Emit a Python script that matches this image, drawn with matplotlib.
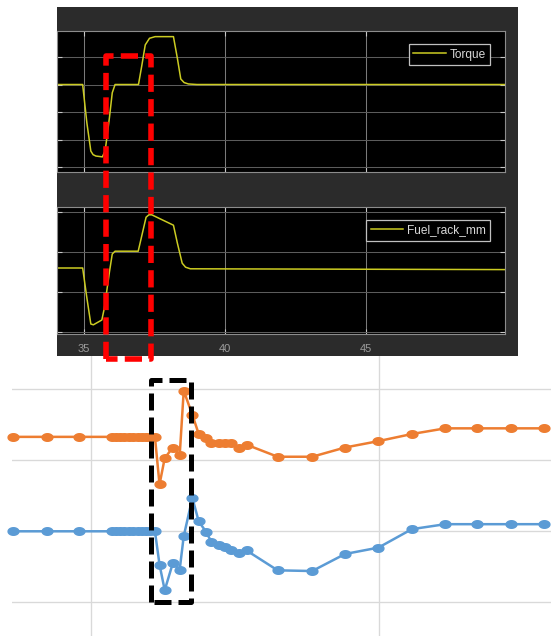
import numpy as np
import matplotlib
matplotlib.use("Agg")
import matplotlib.pyplot as plt
from matplotlib.patches import Rectangle
from matplotlib.lines import Line2D
from matplotlib.path import Path
from matplotlib.ticker import MultipleLocator

W, H = 551, 636

# ---------------- scope traces (simulation time, s) ----------------
torque_t = [34.0, 34.95, 35.10, 35.24, 35.32, 35.42, 35.65, 35.75, 35.90, 36.00,
            36.10, 36.93, 37.05, 37.17, 37.32, 37.52, 38.17, 38.31, 38.43, 38.55,
            38.70, 39.00, 50.0]
torque_v = [3.0, 3.0, 1.6, 0.58, 0.45, 0.40, 0.37, 0.6, 1.8, 2.7,
            3.0, 3.0, 3.7, 4.44, 4.68, 4.74, 4.74, 3.95, 3.2, 3.07,
            3.02, 3.0, 3.0]

fuel_t = [34.0, 34.95, 35.10, 35.24, 35.33, 35.63, 35.72, 35.90, 36.00, 36.10,
          36.92, 37.20, 37.30, 37.40, 38.17, 38.31, 38.48, 38.60, 38.77, 50.0]
fuel_v = [1.6, 1.6, 0.85, 0.2, 0.18, 0.3, 0.6, 1.5, 1.95, 2.02,
          2.02, 2.87, 2.93, 2.93, 2.67, 2.22, 1.72, 1.62, 1.58, 1.56]

scope_ticks = [35, 40, 45]

# ---------------- sampled measurement series ----------------
sample_t = [33.65, 34.23, 34.79,
            35.36, 35.43, 35.51, 35.58, 35.66, 35.73, 35.81, 35.88, 35.96, 36.03, 36.11,
            36.19, 36.28, 36.42, 36.54, 36.61, 36.76, 36.87, 37.00, 37.09, 37.22,
            37.33, 37.43, 37.57, 37.70, 38.24, 38.84, 39.41, 39.99, 40.57, 41.15,
            41.71, 42.30, 42.87]
series_orange = [2.33, 2.33, 2.33,
                 2.33, 2.33, 2.33, 2.33, 2.33, 2.33, 2.33, 2.33, 2.33, 2.33, 2.33,
                 1.66, 2.03, 2.18, 2.07, 2.98, 2.64, 2.37, 2.31, 2.25, 2.24,
                 2.24, 2.24, 2.17, 2.22, 2.05, 2.05, 2.18, 2.27, 2.37, 2.45,
                 2.45, 2.45, 2.45]
series_blue = [1.0, 1.0, 1.0,
               1.0, 1.0, 1.0, 1.0, 1.0, 1.0, 1.0, 1.0, 1.0, 1.0, 1.0,
               0.53, 0.17, 0.55, 0.46, 0.93, 1.47, 1.14, 0.99, 0.85, 0.81,
               0.78, 0.74, 0.69, 0.73, 0.45, 0.44, 0.68, 0.77, 1.03, 1.10,
               1.10, 1.10, 1.10]

# highlighted windows
red_window = (35.77, 37.37)
black_window = (36.04, 36.73)

TRACE = "#cccc22"
ORANGE = "#ED7D31"
BLUE = "#5B9BD5"


def frac(l, t, r, b):
    return [l / W, 1 - b / H, (r - l) / W, (b - t) / H]


fig = plt.figure(figsize=(W / 100, H / 100), dpi=100)
fig.patch.set_facecolor("white")

# ---------------- lower chart ----------------
ax3 = fig.add_axes(frac(12.3, 356, 551, 636))
ax3.set_zorder(0)
ax3.set_xlim(33.634, 42.986)
ax3.set_ylim(-0.475, 3.469)
ax3.xaxis.set_major_locator(MultipleLocator(5))
ax3.yaxis.set_major_locator(MultipleLocator(1))
ax3.grid(True, color="#d9d9d9", lw=0.95)
ax3.set_axisbelow(True)
for s in ax3.spines.values():
    s.set_visible(False)
ax3.tick_params(length=0, labelleft=False, labelbottom=False)

th = np.linspace(0, 2 * np.pi, 41)
ellipse = Path(np.column_stack([np.cos(th), 0.7 * np.sin(th)]), closed=True)

for vals, col in ((series_orange, ORANGE), (series_blue, BLUE)):
    ax3.plot(sample_t, vals, color=col, lw=1.8, marker=ellipse, ms=7.8,
             mec=col, mfc=col, clip_on=False, zorder=3)

bx0, bx1 = black_window
ax3.plot([bx0, bx0, bx1, bx1, bx0], [0.0, 3.13, 3.13, 0.0, 0.0], color="black",
         lw=3.6, ls=(0, (3.4, 1.4)), zorder=6, clip_on=False)

# ---------------- scope panel ----------------
fig.add_artist(Rectangle((57 / W, 1 - 356 / H), (518 - 57) / W, (356 - 7) / H,
                         transform=fig.transFigure, facecolor="#2b2b2b",
                         edgecolor="none", zorder=1))


def scope_axes(rect, ylim, ymax_tick):
    ax = fig.add_axes(frac(*rect))
    ax.set_zorder(2)
    ax.set_facecolor("black")
    ax.set_xlim(34.04, 49.93)
    ax.set_ylim(*ylim)
    ax.set_xticks(scope_ticks)
    ax.set_yticks(range(0, ymax_tick + 1))
    ax.xaxis.grid(True, color="#7a7a7a", lw=0.75)
    ax.yaxis.grid(True, color="#5c5c5c", lw=0.75)
    ax.set_axisbelow(True)
    for s in ax.spines.values():
        s.set_color("#8c8c8c")
        s.set_linewidth(0.8)
    ax.tick_params(direction="in", length=3.6, width=0.8, color="#c8c8c8",
                   top=True, right=True, labelleft=False, labelbottom=False)
    return ax


ax1 = scope_axes((57, 31, 505, 172), (-0.18, 4.945), 4)
ax2 = scope_axes((57, 207, 505, 334), (-0.05, 3.125), 3)

ax1.plot(torque_t, torque_v, color=TRACE, lw=1.1, label="Torque")
ax2.plot(fuel_t, fuel_v, color=TRACE, lw=1.1, label="Fuel_rack_mm")

ax2.tick_params(labelbottom=True, labelcolor="#9c9c9c", labelsize=8, pad=7.5)
for lab in ax2.get_xticklabels():
    lab.set_family("Liberation Sans")

for ax, hgt in ((ax1, 141), (ax2, 127)):
    leg = ax.legend(loc="upper right", bbox_to_anchor=(1 - 15 / 448, 1 - 13 / hgt),
                    borderaxespad=0, frameon=True, fancybox=False, framealpha=1,
                    facecolor="black", edgecolor="#c0c0c0", labelcolor="#d8d8d8",
                    prop={"family": "Liberation Sans", "size": 8.6},
                    handlelength=2.7, handletextpad=0.3, borderpad=0.38)
    leg.get_frame().set_linewidth(0.9)

# ---------------- red highlight across the scope ----------------
inv = fig.transFigure.inverted()
rx0, rtop = inv.transform(ax1.transData.transform((red_window[0], 4.04)))
rx1, _ = inv.transform(ax1.transData.transform((red_window[1], 4.04)))
_, rbot = inv.transform(ax3.transData.transform((36.0, 3.43)))
fig.add_artist(Line2D([rx0, rx0, rx1, rx1, rx0], [rbot, rtop, rtop, rbot, rbot],
                      transform=fig.transFigure, color="#ff0000", lw=4.0,
                      ls=(0, (3.1, 1.3)), zorder=10))

fig.savefig("out.png", dpi=100)
